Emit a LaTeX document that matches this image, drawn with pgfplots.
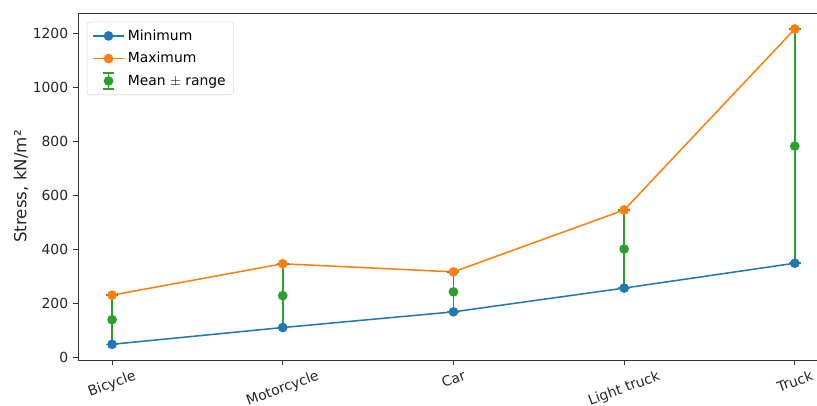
\documentclass[border=0pt]{standalone}
\usepackage{fontspec}
\setmainfont{DejaVu Sans}
\usepackage{pgfplots}
\pgfplotsset{compat=1.18}
\definecolor{tabblue}{HTML}{1F77B4}
\definecolor{taborange}{HTML}{FF7F0E}
\definecolor{tabgreen}{HTML}{2CA02C}
\pgfplotsset{
  longline legend/.style={legend image code/.code={\draw[mark repeat=2,mark phase=2,##1] plot coordinates {(0cm,0cm)(0.4cm,0cm)(0.8cm,0cm)};}},
  errbar legend/.style={legend image code/.code={
    \draw[tabgreen, line width=1.1pt] (0.4cm,-0.2cm) -- (0.4cm,0.2cm);
    \draw[tabgreen, line width=1.1pt] (0.25cm,-0.2cm) -- (0.55cm,-0.2cm);
    \draw[tabgreen, line width=1.1pt] (0.25cm,0.2cm) -- (0.55cm,0.2cm);
    \fill[tabgreen] (0.4cm,0cm) circle (2.9pt);}},
}
\begin{document}
\begin{tikzpicture}
\begin{axis}[
  scale only axis,
  width=531.9pt, height=249.7pt,
  xmin=-0.2, xmax=4.13,
  ymin=-10, ymax=1274,
  axis x line*=box, axis y line*=left,
  axis line style={black!80, line width=0.6pt},
  xtick={0,1,2,3,4},
  xticklabels={\rotatebox{20}{Bicycle},\rotatebox{20}{Motorcycle},\rotatebox{20}{Car},\rotatebox{20}{Light truck},\rotatebox{20}{Truck}},
  xtick pos=bottom, ytick pos=left,
  ytick={0,200,400,600,800,1000,1200},
  tick align=outside,
  major tick length=3.5pt,
  tick style={black!80, line width=0.6pt},
  x tick label style={anchor=north, font=\fontsize{10}{12}\selectfont, text=black!85},
  y tick label style={font=\fontsize{10}{12}\selectfont, text=black!85},
  /pgf/number format/assume math mode=true,
  /pgf/number format/1000 sep={},
  ylabel={Stress, kN/m²},
  ylabel shift=-3.6pt,
  ylabel style={font=\fontsize{12}{14}\selectfont, text=black!85},
  legend style={at={(0.012,0.975)}, anchor=north west, draw=black!15, rounded corners=2pt,
    font=\fontsize{10}{12}\selectfont, row sep=3.2pt, inner sep=3.5pt},
  legend cell align=left,
  clip=false,
]
\addplot[color=tabblue, line width=1.1pt, mark=*, mark size=2.9pt, longline legend] coordinates {
  (0,48) (1,110) (2,168) (3,256) (4,348)};
\addlegendentry{Minimum}
\addplot[color=taborange, line width=1.1pt, mark=*, mark size=2.9pt, longline legend] coordinates {
  (0,230) (1,346) (2,316) (3,545) (4,1215)};
\addlegendentry{Maximum}
\addplot[color=tabgreen, line width=1.1pt, only marks, mark=*, mark size=2.9pt, errbar legend,
  error bars/.cd, y dir=both, y explicit,
  error mark=|,
  error bar style={line width=1.1pt, color=tabgreen},
  error mark options={mark size=4.3pt, line width=1.1pt, color=tabgreen},
] coordinates {
  (0,139) +- (0,91)
  (1,228) +- (0,118)
  (2,242) +- (0,74)
  (3,400.5) +- (0,144.5)
  (4,781.5) +- (0,433.5)};
\addlegendentry{Mean $\pm$ range}
\end{axis}
\pgfresetboundingbox
\path[use as bounding box] ([shift={(-56.1pt,-33.1pt)}]current axis.south west) rectangle ([shift={(0pt,9.36pt)}]current axis.north east);
\end{tikzpicture}
\end{document}
